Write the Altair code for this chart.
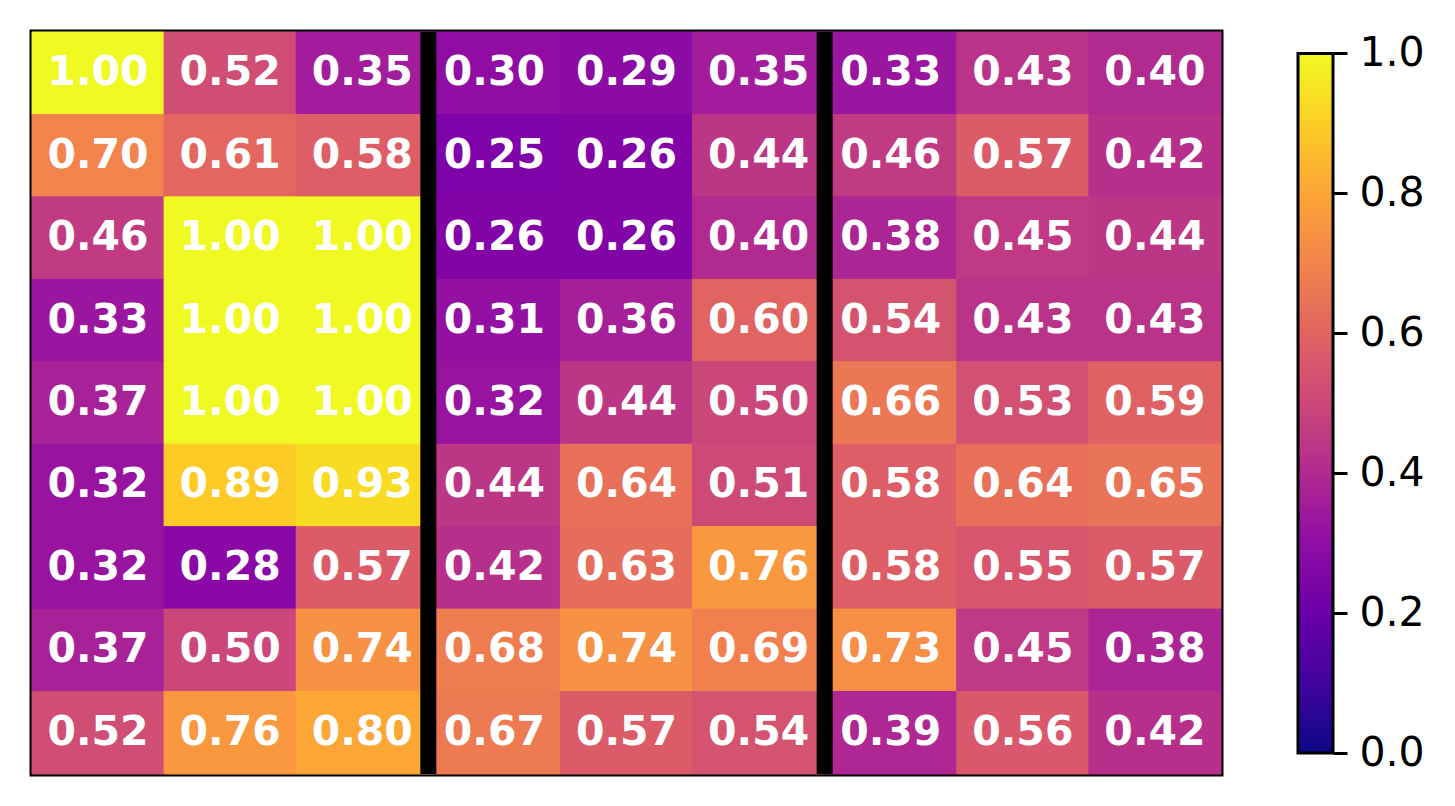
import altair as alt
import pandas as pd

# heatmap values, row by row (top to bottom), 9 columns each
values = [
    [1.00, 0.52, 0.35, 0.30, 0.29, 0.35, 0.33, 0.43, 0.40],
    [0.70, 0.61, 0.58, 0.25, 0.26, 0.44, 0.46, 0.57, 0.42],
    [0.46, 1.00, 1.00, 0.26, 0.26, 0.40, 0.38, 0.45, 0.44],
    [0.33, 1.00, 1.00, 0.31, 0.36, 0.60, 0.54, 0.43, 0.43],
    [0.37, 1.00, 1.00, 0.32, 0.44, 0.50, 0.66, 0.53, 0.59],
    [0.32, 0.89, 0.93, 0.44, 0.64, 0.51, 0.58, 0.64, 0.65],
    [0.32, 0.28, 0.57, 0.42, 0.63, 0.76, 0.58, 0.55, 0.57],
    [0.37, 0.50, 0.74, 0.68, 0.74, 0.69, 0.73, 0.45, 0.38],
    [0.52, 0.76, 0.80, 0.67, 0.57, 0.54, 0.39, 0.56, 0.42],
]
dividers = [3, 6]
cbar_ticks = [0.0, 0.2, 0.4, 0.6, 0.8, 1.0]
plasma_stops = ["#0d0887", "#41049d", "#6a00a8", "#8f0da4", "#b12a90", "#cc4778",
                "#e16462", "#f2844b", "#fca636", "#fcce25", "#f0f921"]

recs = []
for r, row in enumerate(values):
    for c, v in enumerate(row):
        recs.append({"c0": c, "c1": c + 1, "cx": c + 0.5,
                     "r0": r, "r1": r + 1, "ry": r + 0.5,
                     "value": v, "label": f"{v:.2f}"})
df = pd.DataFrame(recs)

xs = alt.Scale(domain=[0, 9], nice=False, zero=False)
ys = alt.Scale(domain=[0, 9], nice=False, zero=False, reverse=True)
cscale = alt.Scale(scheme="plasma", domain=[0, 1])

heat = alt.Chart(df).mark_rect(strokeWidth=1).encode(
    x=alt.X("c0:Q", scale=xs, axis=None),
    x2="c1:Q",
    y=alt.Y("r0:Q", scale=ys, axis=None),
    y2="r1:Q",
    color=alt.Color("value:Q", scale=cscale, legend=None),
    stroke=alt.Stroke("value:Q", scale=cscale, legend=None),
)

text = alt.Chart(df).mark_text(
    font="DejaVu Sans", fontWeight="bold", fontSize=41, color="white", baseline="middle"
).encode(
    x=alt.X("cx:Q", axis=None),
    y=alt.Y("ry:Q", axis=None),
    text="label:N",
)

rules = alt.Chart(pd.DataFrame({"b": dividers})).mark_rule(color="black", strokeWidth=16).encode(
    x=alt.X("b:Q", axis=None)
)

heatmap = alt.layer(heat, text, rules).properties(width=1189, height=742)

grad = alt.LinearGradient(
    gradient="linear",
    stops=[alt.GradientStop(color=col, offset=i / (len(plasma_stops) - 1))
           for i, col in enumerate(plasma_stops)],
    x1=0, x2=0, y1=1, y2=0,
)

cbar = alt.Chart(pd.DataFrame({"lo": [0.0], "hi": [1.0]})).mark_rect(
    fill=grad, stroke="black", strokeWidth=3
).encode(
    x=alt.value(0),
    x2=alt.value(35),
    y=alt.Y("lo:Q", scale=alt.Scale(domain=[-0.030, 1.0307], nice=False, zero=False),
            axis=alt.Axis(orient="right", values=cbar_ticks, format=".1f", domain=False,
                          grid=False, ticks=True, tickSize=14, tickWidth=3, tickColor="black",
                          labelFontSize=41, labelFont="DejaVu Sans", labelColor="black",
                          labelPadding=12, title=None)),
    y2="hi:Q",
).properties(width=35, height=742, view=alt.ViewBackground(stroke=None, strokeWidth=0))

chart = alt.hconcat(heatmap, cbar, spacing=72).properties(
    padding={"left": 21, "top": 13, "right": 5, "bottom": 5},
    background="white",
).configure_view(stroke="black", strokeWidth=5)

chart.save("out.html", embed_options={"renderer": "svg", "actions": False})
